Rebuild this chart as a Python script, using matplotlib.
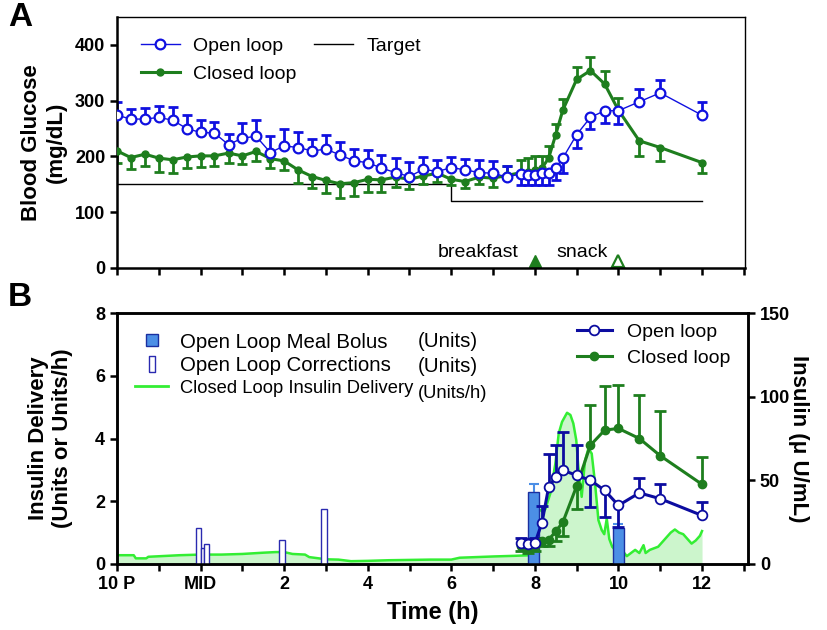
import numpy as np
import matplotlib
matplotlib.use("Agg")
import matplotlib.pyplot as plt
from matplotlib.lines import Line2D

plt.rcParams['font.family'] = ['Liberation Sans', 'DejaVu Sans']

# ---- data: panel A (blood glucose, mg/dL) ----
t_glu = [-2, -1.67, -1.33, -1, -0.67, -0.33, 0, 0.33, 0.67, 1, 1.33, 1.67, 2, 2.33, 2.67,
         3, 3.33, 3.67, 4, 4.33, 4.67, 5, 5.33, 5.67, 6, 6.33, 6.67, 7, 7.33,
         7.67, 7.83, 8, 8.17, 8.33, 8.5, 8.67, 9, 9.33, 9.67, 10, 10.5, 11, 12]
open_glu = [274, 267, 267, 270, 265, 250, 243, 242, 221, 233, 236, 207, 219, 216, 210,
            213, 203, 192, 189, 179, 171, 164, 177, 173, 180, 176, 171, 170, 163,
            169, 167, 167, 170, 170, 180, 197, 239, 270, 282, 282, 298, 314, 274]
open_glu_hi = [23, 18, 19, 21, 23, 24, 22, 19, 19, 27, 29, 29, 30, 27, 21,
               25, 23, 21, 23, 24, 26, 26, 22, 21, 19, 19, 23, 22, 20,
               0, 0, 0, 0, 0, 0, 0, 0, 0, 0, 0, 23, 23, 24]
open_glu_lo = [0] * 29 + [20, 18, 18, 21, 21, 22, 27, 24, 21, 22, 24, 0, 0, 0]
closed_glu = [210, 198, 204, 197, 194, 199, 201, 201, 206, 201, 209, 196, 192, 176, 164,
              157, 151, 153, 159, 158, 163, 159, 165, 170, 159, 155, 163, 161, 166,
              171, 173, 175, 179, 197, 239, 283, 338, 354, 330, 283, 228, 216, 189]
closed_glu_lo = [22, 20, 21, 25, 24, 20, 20, 19, 18, 14, 17, 17, 17, 23, 21,
                 23, 26, 24, 22, 21, 17, 17, 15, 15, 10, 12, 12, 15, 0,
                 0, 0, 0, 0, 0, 0, 0, 0, 0, 0, 0, 28, 24, 18]
closed_glu_hi = [0] * 28 + [17, 23, 24, 25, 22, 22, 19, 20, 22, 24, 24, 21, 0, 0, 0]
target_t = [-2, 6, 12]
target_glu = [150, 120, 120]
meal_t = [8, 10]
meal_names = ['breakfast', 'snack']

# ---- data: panel B ----
t_ins = [7.67, 7.83, 8, 8.17, 8.33, 8.5, 8.67, 9, 9.33, 9.67, 10, 10.5, 11, 12]
open_ins = [12.7, 12, 12.4, 24.7, 46, 52, 56, 53, 50, 44, 35, 42.5, 39, 29]
open_ins_hi = [3, 3, 3, 10, 19.5, 19, 23, 18, 0, 0, 0, 9, 9, 8]
open_ins_lo = [0, 0, 0, 0, 0, 0, 0, 0, 16, 16, 13, 0, 0, 0]
closed_ins = [10.5, 9.5, 10.5, 13.5, 14.5, 19.5, 25, 46.6, 71, 80, 81, 75, 64.7, 47.6]
closed_ins_hi = [0, 0, 0, 0, 0, 0, 0, 0, 24, 26.6, 26, 26, 27, 16.5]
closed_ins_lo = [3, 3, 3, 3, 4, 6, 8, 14, 0, 0, 0, 0, 0, 0]

bolus_t = [7.97, 10.0]
bolus_u = [2.3, 1.15]
bolus_err = [0.25, 0.13]
corr_t = [-0.06, 0.04, 0.15, 1.95, 2.95]
corr_u = [1.15, 0.5, 0.65, 0.75, 1.75]
corr_w = [0.12, 0.08, 0.12, 0.13, 0.13]

cl_t = [-2, -1.6, -1.55, -1.3, -1.25, -0.8, -0.5, 0, 0.5, 1, 1.5, 1.8, 2.0, 2.2, 2.5,
        2.6, 3.0, 3.3, 3.6, 4.0, 4.5, 5.0, 5.5, 6.0, 6.2, 6.6, 7.0, 7.5, 7.9, 8.0,
        8.03, 8.13, 8.2, 8.25, 8.37, 8.49, 8.57, 8.65, 8.77, 8.85, 8.92, 8.99, 9.04,
        9.12, 9.2, 9.28, 9.36, 9.44, 9.52, 9.6, 9.66, 9.72, 9.78, 9.85, 9.95, 10.05,
        10.12, 10.2, 10.3, 10.4, 10.5, 10.6, 10.65, 10.75, 10.85, 10.95, 11.05, 11.15,
        11.25, 11.35, 11.45, 11.55, 11.65, 11.75, 11.85, 11.95, 12.0]
cl_rate = [0.28, 0.28, 0.18, 0.18, 0.23, 0.26, 0.28, 0.3, 0.3, 0.32, 0.36, 0.38, 0.38, 0.32, 0.3,
           0.22, 0.15, 0.14, 0.09, 0.1, 0.12, 0.13, 0.14, 0.14, 0.2, 0.22, 0.24, 0.26, 0.28, 0.3,
           1.8, 1.72, 1.65, 1.75, 2.25, 3.2, 4.16, 4.53, 4.82, 4.75, 4.48, 3.95, 3.1,
           2.14, 3.3, 3.68, 3.52, 2.57, 1.4, 1.08, 0.95, 1.45, 0.8, 0.55, 0.4, 0.3,
           0.38, 0.25, 0.35, 0.45, 0.35, 0.6, 0.35, 0.45, 0.5, 0.55, 0.7, 0.85,
           1.0, 1.1, 1.0, 0.95, 0.8, 0.65, 0.75, 0.9, 1.05]

BLUE = '#1010E0'
NAVY = '#0C0CA0'
GREEN = '#1E7E1E'
LIME = '#33EE33'
FILL = '#CCF5CC'
BOLUS = '#4C8FE6'


def err_bars(ax, x, y, lo, hi, color, lw=1.8, cap=7):
    x, y, lo, hi = map(np.asarray, (x, y, lo, hi))
    for sel, ends in ((hi > 0, y + hi), (lo > 0, y - lo)):
        ax.vlines(x[sel], y[sel], ends[sel], color=color, lw=lw, zorder=2)
        ax.plot(x[sel], ends[sel], ls='none', marker='_', ms=cap, mew=lw,
                color=color, zorder=2)


fig = plt.figure(figsize=(8.27, 6.3), dpi=100)
axA = fig.add_axes([117 / 827, 1 - 268 / 630, 628 / 827, 251 / 630])
axB = fig.add_axes([117 / 827, 1 - 564 / 630, 631 / 827, 251 / 630])

# ---------------- panel A ----------------
axA.step(target_t, target_glu, where='post', color='black', lw=1, zorder=1)
err_bars(axA, t_glu, closed_glu, closed_glu_lo, closed_glu_hi, GREEN, lw=2)
err_bars(axA, t_glu, open_glu, open_glu_lo, open_glu_hi, BLUE, lw=2)
axA.plot(t_glu, closed_glu, color=GREEN, lw=2.2, marker='o', ms=5, zorder=3)
axA.plot(t_glu, open_glu, color=BLUE, lw=1, marker='o', ms=7, mfc='white',
         mec=BLUE, mew=1.6, zorder=4)

axA.plot(meal_t[0], 12, marker='^', color=GREEN, ms=8, ls='none', clip_on=False)
axA.plot(meal_t[1], 12, marker='^', mfc='white', mec=GREEN, mew=1.6, ms=9, ls='none',
         clip_on=False)
axA.text(meal_t[0] - 0.4, 28, meal_names[0], ha='right', va='center', fontsize=14)
axA.text(meal_t[1] - 0.25, 28, meal_names[1], ha='right', va='center', fontsize=14)

axA.set_xlim(-2, 13.03)
axA.set_ylim(0, 450)
axA.set_yticks([0, 100, 200, 300, 400])
axA.set_xticks(np.arange(-2, 14, 1))
axA.set_xticklabels([])
axA.set_ylabel('Blood Glucose\n(mg/dL)', fontsize=16, fontweight='bold', labelpad=6)
for s in ['left', 'bottom']:
    axA.spines[s].set_linewidth(1.8)
for s in ['top', 'right']:
    axA.spines[s].set_linewidth(1.0)
axA.tick_params(axis='both', direction='out', width=1.8, length=5, labelsize=13)
for lab in axA.get_yticklabels():
    lab.set_fontweight('bold')

hA = [Line2D([], [], color=BLUE, lw=1, marker='o', ms=7, mfc='white', mec=BLUE, mew=1.6),
      Line2D([], [], color=GREEN, lw=2.2, marker='o', ms=5),
      Line2D([], [], color='black', lw=1)]
axA.legend(hA, ['Open loop', 'Closed loop', 'Target'], ncol=2, loc='upper left',
           bbox_to_anchor=(0.01, 0.99), frameon=False, fontsize=14, handlelength=2.0,
           columnspacing=0.9, labelspacing=0.55, handletextpad=0.7)

# ---------------- panel B ----------------
axB.fill_between(cl_t, 0, cl_rate, color=FILL, lw=0, zorder=1)
axB.plot(cl_t, cl_rate, color=LIME, lw=1.8, zorder=2)
axB.bar(bolus_t, bolus_u, width=0.25, color=BOLUS, edgecolor='#1A2FA0', lw=1, zorder=3)
err_bars(axB, bolus_t, bolus_u, [0, 0], bolus_err, BOLUS, lw=1.5, cap=7)
axB.bar(corr_t, corr_u, width=corr_w, color='white', edgecolor='#2A2AB0', lw=1, zorder=3)

ax2 = axB.twinx()
err_bars(ax2, t_ins, closed_ins, closed_ins_lo, closed_ins_hi, GREEN, lw=2, cap=8)
err_bars(ax2, t_ins, open_ins, open_ins_lo, open_ins_hi, NAVY, lw=2, cap=8)
ax2.plot(t_ins, closed_ins, color=GREEN, lw=2.2, marker='o', ms=6, zorder=3)
ax2.plot(t_ins, open_ins, color=NAVY, lw=2.2, marker='o', ms=7, mfc='white',
         mec=NAVY, mew=1.3, zorder=4)

axB.set_xlim(-2, 13.1)
axB.set_ylim(0, 8)
ax2.set_ylim(0, 150)
axB.set_yticks([0, 2, 4, 6, 8])
ax2.set_yticks([0, 50, 100, 150])
axB.set_xticks(np.arange(-2, 13, 2))
axB.set_xticklabels(['10 P', 'MID', '2', '4', '6', '8', '10', '12'])
axB.set_xticks(np.arange(-1, 14, 2), minor=True)
for a in (axB, ax2):
    for s in a.spines.values():
        s.set_linewidth(1.8)
axB.tick_params(axis='both', which='both', direction='out', width=1.8, length=5, labelsize=13)
ax2.tick_params(axis='y', direction='out', width=1.8, length=5, labelsize=13)
for lab in axB.get_xticklabels() + axB.get_yticklabels() + ax2.get_yticklabels():
    lab.set_fontweight('bold')
axB.set_xlabel('Time (h)', fontsize=17, fontweight='bold', labelpad=6)
axB.set_ylabel('Insulin Delivery\n(Units or Units/h)', fontsize=16, fontweight='bold',
               labelpad=16)
ax2.set_ylabel('Insulin (\u03bc U/mL)', fontsize=16, fontweight='bold', rotation=270,
               labelpad=14)

bar_marker = [(-0.4, -1), (0.4, -1), (0.4, 1), (-0.4, 1), (-0.4, -1)]
hB = [Line2D([], [], ls='none', marker='s', ms=9, mfc=BOLUS, mec='#1A2FA0'),
      Line2D([], [], ls='none', marker=bar_marker, ms=11, mfc='white', mec='#2A2AB0', mew=1),
      Line2D([], [], color=LIME, lw=2)]
legB = axB.legend(hB, ['Open Loop Meal Bolus', 'Open Loop Corrections',
                       'Closed Loop Insulin Delivery'],
                  loc='upper left', bbox_to_anchor=(0.0, 0.995), frameon=False,
                  fontsize=14.7, handlelength=1.6, labelspacing=0.2, handletextpad=0.6)
legB.get_texts()[2].set_fontsize(13.2)
axB.text(0.477, 0.888, '(Units)', transform=axB.transAxes, fontsize=14.7, va='center')
axB.text(0.477, 0.785, '(Units)', transform=axB.transAxes, fontsize=14.7, va='center')
axB.text(0.477, 0.681, '(Units/h)', transform=axB.transAxes, fontsize=13.2, va='center')

h2 = [Line2D([], [], color=NAVY, lw=2.2, marker='o', ms=7, mfc='white', mec=NAVY, mew=1.3),
      Line2D([], [], color=GREEN, lw=2.2, marker='o', ms=6)]
ax2.legend(h2, ['Open loop', 'Closed loop'], loc='upper right', bbox_to_anchor=(1.0, 1.03),
           frameon=False, fontsize=14, handlelength=1.8, labelspacing=0.45)

fig.text(8 / 827, 1 - 18 / 630, 'A', fontsize=24, fontweight='bold', va='center')
fig.text(8 / 827, 1 - 298 / 630, 'B', fontsize=24, fontweight='bold', va='center')

fig.savefig('out.png', dpi=100)
